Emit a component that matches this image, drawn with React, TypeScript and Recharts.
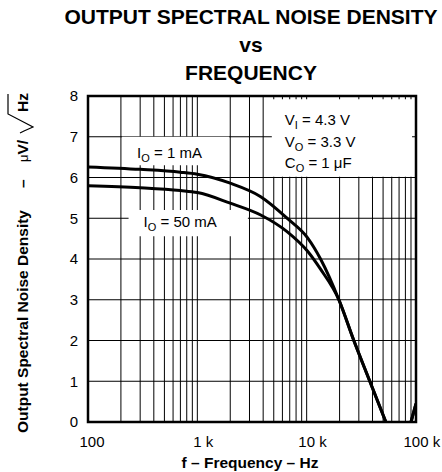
import React from 'react';
import {
  CartesianGrid,
  Label,
  Line,
  LineChart,
  ReferenceArea,
  XAxis,
  YAxis,
} from 'recharts';

// frequencies in Hz, noise in uV/rtHz (null = gap in the trace)
const freq = [100, 300, 700, 1000, 2000, 3800, 6700, 10200, 13400, 19700, 27000, 37800, 53000, 70000, 90000, 100000];
const noise1mA = [6.26, 6.2, 6.13, 6.08, 5.86, 5.53, 4.99, 4.52, 4.0, 3.0, 2.0, 1.0, 0, null, 0, 0.45];
const noise50mA = [5.8, 5.75, 5.68, 5.63, 5.37, 5.08, 4.66, 4.19, 3.75, 3.0, 2.0, 1.0, 0, null, 0, 0.45];

const freqTicks = [100, 1000, 10000, 100000];
const freqTickLabels = ['100', '1 k', '10 k', '100 k'];
const noiseTicks = [0, 1, 2, 3, 4, 5, 6, 7, 8];
const gridFreqs = [
  200, 300, 400, 500, 600, 700, 800, 900, 1000,
  2000, 3000, 4000, 5000, 6000, 7000, 8000, 9000, 10000,
  20000, 30000, 40000, 50000, 60000, 70000, 80000, 90000,
];

const data = freq.map((f, i) => ({ f, a: noise1mA[i], b: noise50mA[i] }));

const FONT = '"Liberation Sans", Arial, Helvetica, sans-serif';
const FS = 15;

const FreqTick = ({ x, y, payload, index }: any) => {
  const idx = freqTicks.indexOf(payload.value);
  const label = freqTickLabels[idx] ?? String(payload.value);
  const num = label.split(' ')[0];
  // first label sits a little inside the frame in the original
  const nudge = index === 0 ? 4 : 0;
  return (
    <text
      x={x - num.length * 0.278 * FS + nudge}
      y={y}
      dy="0.71em"
      textAnchor="start"
      fontSize={FS}
      fontFamily={FONT}
      fill="#000"
    >
      {label}
    </text>
  );
};

const Sub = ({ children }: { children: React.ReactNode }) => (
  <tspan fontSize={11} dy={4}>{children}</tspan>
);

const BoxText = ({ viewBox, lines, dx, dy, gap }: any) => {
  const { x, y } = viewBox;
  return (
    <text x={x + dx} y={y + dy} fontSize={FS} fontFamily={FONT} fill="#000">
      {lines.map((ln: any, i: number) => (
        <tspan key={i} x={x + dx} y={y + dy + i * gap}>
          {ln}
        </tspan>
      ))}
    </text>
  );
};

const XTitle = () => (
  <text x={250} y={468} textAnchor="middle" fontSize={15.5} fontWeight="bold" fontFamily={FONT} fill="#000">
    f – Frequency – Hz
  </text>
);

// rotated axis title; local x = -(screen y)
const YTitle = () => (
  <g>
    <g transform="translate(28, 0) rotate(-90)" fontFamily={FONT} fill="#000">
      <text
        x={-433}
        y={0}
        textAnchor="start"
        fontSize={15.5}
        fontWeight="bold"
        textLength={223}
        lengthAdjust="spacingAndGlyphs"
      >
        Output Spectral Noise Density
      </text>
      <text x={-188} y={0} textAnchor="start" fontSize={15.5} fontWeight="bold">
        –
      </text>
      <text x={-162} y={0} textAnchor="start" fontSize={13}>
        μ
        <tspan fontSize={15.5} fontWeight="bold">V/</tspan>
      </text>
      <text x={-112} y={0} textAnchor="start" fontSize={15.5} fontWeight="bold">
        Hz
      </text>
    </g>
    <path
      d="M 20 133 L 24 131 L 33 127 L 8 114 L 8 94"
      fill="none"
      stroke="#000"
      strokeWidth={1.2}
    />
  </g>
);

export default function App() {
  return (
    <div style={{ position: 'absolute', left: 0, top: 0, width: 442, height: 472, background: '#fff', fontFamily: FONT }}>
      <div
        style={{
          position: 'absolute',
          left: 51,
          top: 3,
          width: 400,
          textAlign: 'center',
          fontSize: 21,
          fontWeight: 'bold',
          lineHeight: '28px',
        }}
      >
        <div>OUTPUT SPECTRAL NOISE DENSITY</div>
        <div>vs</div>
        <div>FREQUENCY</div>
      </div>
      <LineChart
        width={442}
        height={472}
        data={data}
        margin={{ top: 96, right: 26, left: 48, bottom: 20 }}
        style={{ position: 'absolute', left: 0, top: 0 }}
      >
        <CartesianGrid
          stroke="#000"
          strokeWidth={1}
          horizontal
          vertical
          verticalCoordinatesGenerator={({ xAxis, offset }: any) =>
            gridFreqs.map((g) =>
              xAxis && typeof xAxis.scale === 'function'
                ? xAxis.scale(g)
                : offset.left + (offset.width * Math.log10(g / 100)) / 3
            )
          }
        />
        <XAxis
          dataKey="f"
          type="number"
          scale="log"
          domain={[100, 100000]}
          ticks={freqTicks}
          tick={<FreqTick />}
          tickLine={false}
          axisLine={false}
          tickSize={0}
          tickMargin={14}
          height={30}
          allowDataOverflow
        >
          <Label content={<XTitle />} />
        </XAxis>
        <YAxis
          type="number"
          domain={[0, 8]}
          ticks={noiseTicks}
          tick={{ fontSize: FS, fill: '#000', fontFamily: FONT }}
          tickLine={false}
          axisLine={false}
          tickSize={0}
          tickMargin={10}
          width={40}
        >
          <Label content={<YTitle />} />
        </YAxis>
        <ReferenceArea
          x1={205}
          x2={1950}
          y1={6.3}
          y2={7.0}
          fill="#fff"
          fillOpacity={1}
          stroke="none"
          label={<BoxText lines={[<>I<Sub>O</Sub><tspan dy={-4}> = 1 mA</tspan></>]} dx={15} dy={21} gap={0} />}
        />
        <ReferenceArea
          x1={235}
          x2={2900}
          y1={4.56}
          y2={5.2}
          fill="#fff"
          fillOpacity={1}
          stroke="none"
          label={<BoxText lines={[<>I<Sub>O</Sub><tspan dy={-4}> = 50 mA</tspan></>]} dx={15} dy={17} gap={0} />}
        />
        <ReferenceArea
          x1={4800}
          x2={92000}
          y1={6.02}
          y2={7.92}
          fill="#fff"
          fillOpacity={1}
          stroke="none"
          label={
            <BoxText
              lines={[
                <>V<Sub>I</Sub><tspan dy={-4}> = 4.3 V</tspan></>,
                <>V<Sub>O</Sub><tspan dy={-4}> = 3.3 V</tspan></>,
                <>C<Sub>O</Sub><tspan dy={-4}> = 1 μF</tspan></>,
              ]}
              dx={13}
              dy={26}
              gap={21.5}
            />
          }
        />
        <ReferenceArea
          x1={100}
          x2={100000}
          y1={0}
          y2={8}
          fill="none"
          stroke="#000"
          strokeWidth={2.5}
        />
        <Line
          type="monotone"
          dataKey="a"
          stroke="#000"
          strokeWidth={3}
          dot={false}
          isAnimationActive={false}
        />
        <Line
          type="monotone"
          dataKey="b"
          stroke="#000"
          strokeWidth={3}
          dot={false}
          isAnimationActive={false}
        />
      </LineChart>
    </div>
  );
}
